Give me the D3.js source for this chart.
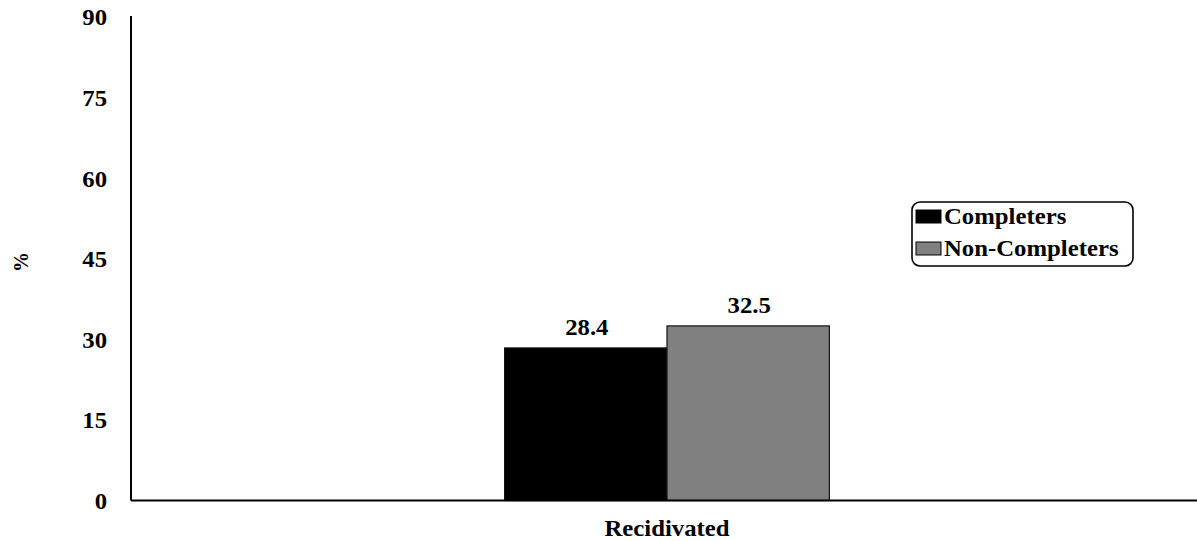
<!DOCTYPE html>
<html>
<head>
<meta charset="utf-8">
<script src="https://cdn.jsdelivr.net/npm/d3@7"></script>
<style>
body { margin: 0; background: #fff; }
text { font-family: "Liberation Serif", "Times New Roman", serif; font-weight: bold; fill: #000; }
</style>
</head>
<body>
<svg id="chart" width="1197" height="541"></svg>
<script>
const categories = ["Recidivated"];
const seriesNames = ["Completers", "Non-Completers"];
const completers = [28.4];
const nonCompleters = [32.5];
const seriesColors = ["#000000", "#808080"];
const yTicks = [0, 15, 30, 45, 60, 75, 90];
const yLabel = "%";

(function () {
const svg = d3.select("#chart");
const mLeft = 131, mRight = 1197, mTop = 17, mBottom = 500.5;
const FS = "22.5px", SX = 1.1;

function stretchedText(parent, px, py, str, anchor) {
  return parent.append("text")
    .attr("transform", `translate(${px},${py}) scale(${SX},1)`)
    .attr("text-anchor", anchor || "start")
    .style("font-size", FS)
    .text(str);
}

const y = d3.scaleLinear().domain([0, 90]).range([mBottom, mTop]);
const x0 = d3.scaleBand().domain(categories).range([mLeft, 1203]).paddingInner(0.535).paddingOuter(0.535);
const x1 = d3.scaleBand().domain(seriesNames).range([0, x0.bandwidth()]);

const data = categories.map((c, i) => ({ cat: c, values: [completers[i], nonCompleters[i]] }));

// bars
const g = svg.append("g");
data.forEach(d => {
  d.values.forEach((v, j) => {
    g.append("rect")
      .attr("x", x0(d.cat) + x1(seriesNames[j]))
      .attr("y", y(v))
      .attr("width", x1.bandwidth())
      .attr("height", y(0) - y(v))
      .attr("fill", seriesColors[j])
      .attr("stroke", "#111")
      .attr("stroke-width", 1.2);
    stretchedText(g, x0(d.cat) + x1(seriesNames[j]) + x1.bandwidth() / 2 + 1, y(v) - 12.5, v.toFixed(1), "middle");
  });
});

// y axis
const yAxis = d3.axisLeft(y).tickValues(yTicks).tickSize(0).tickPadding(24);
const ya = svg.append("g").attr("transform", `translate(${mLeft},0)`).call(yAxis);
ya.select(".domain").remove();
ya.selectAll("text")
  .style("font-size", FS).style("font-family", "Liberation Serif").style("font-weight", "bold")
  .attr("x", -24 / SX).attr("dy", "0.35em").attr("transform", `scale(${SX},1)`);
svg.append("line").attr("x1", mLeft).attr("x2", mLeft).attr("y1", 16).attr("y2", mBottom)
  .attr("stroke", "#000").attr("stroke-width", 2);

// x axis
svg.append("line").attr("x1", mLeft).attr("x2", mRight).attr("y1", mBottom).attr("y2", mBottom)
  .attr("stroke", "#000").attr("stroke-width", 2);
const xAxis = d3.axisBottom(x0).tickSize(0).tickPadding(0);
const xa = svg.append("g").attr("transform", `translate(0,${mBottom})`).call(xAxis);
xa.select(".domain").remove();
xa.selectAll(".tick").each(function () {
  const t = d3.select(this).select("text");
  t.attr("y", 0).attr("dy", 0)
    .style("font-size", FS).style("font-family", "Liberation Serif").style("font-weight", "bold")
    .attr("transform", `translate(0,35.5) scale(${SX},1)`);
});

// y label
svg.append("text").attr("transform", "translate(28,262) rotate(-90)")
  .attr("text-anchor", "middle").style("font-size", "20px").text(yLabel);

// legend
const lg = svg.append("g");
lg.append("rect").attr("x", 912).attr("y", 202).attr("width", 221).attr("height", 64)
  .attr("rx", 8).attr("fill", "#fff").attr("stroke", "#000").attr("stroke-width", 1.6);
seriesNames.forEach((s, i) => {
  const yy = 210 + i * 32;
  lg.append("rect").attr("x", 916).attr("y", yy).attr("width", 25).attr("height", 13)
    .attr("fill", seriesColors[i]).attr("stroke", "#000").attr("stroke-width", 1);
  stretchedText(lg, 944, yy + 14, s, "start");
});
})();
</script>
</body>
</html>
